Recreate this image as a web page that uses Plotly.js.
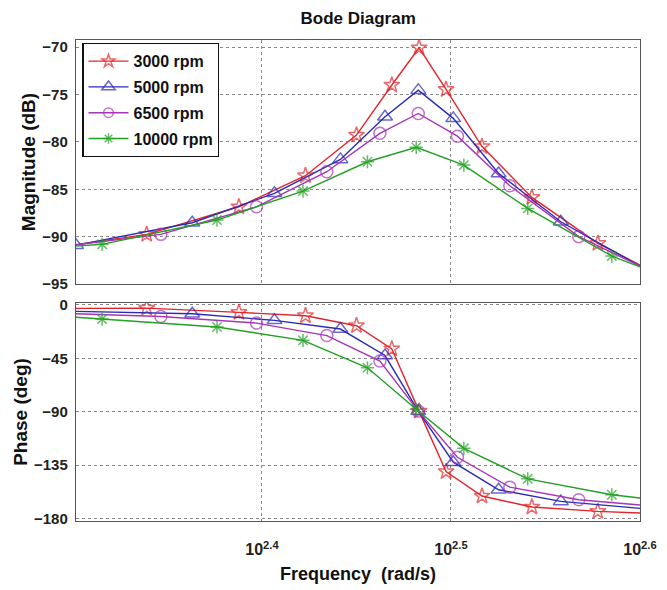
<!DOCTYPE html>
<html>
<head>
<meta charset="utf-8">
<script src="https://cdn.plot.ly/plotly-3.0.1.min.js"></script>
<style>html,body{margin:0;padding:0;background:#fff;}#chart{width:667px;height:590px;}</style>
</head>
<body>
<div id="chart"></div>
<script>
// ---- data (log10 of frequency in rad/s, magnitude dB, phase deg) ----
const seriesNames = ['3000 rpm', '5000 rpm', '6500 rpm', '10000 rpm'];

// 3000 rpm
const logW3000 = [2.3016, 2.339, 2.3878, 2.423, 2.450, 2.4687, 2.4831, 2.4974, 2.5164, 2.5428, 2.5777, 2.6];
const mag3000  = [-90.85, -89.76, -86.85, -83.57, -79.28, -74.0, -70.07, -74.47, -80.5, -85.86, -90.71, -93.0];
const ph3000   = [-3.0, -2.8, -6.4, -9.2, -17.6, -37.1, -89.5, -140.4, -161.0, -170.2, -173.9, -175.3];
const mk3000   = [false, true, true, true, true, true, true, true, true, true, true, false];

// 5000 rpm
const logW5000 = [2.3016, 2.3631, 2.4066, 2.4415, 2.4651, 2.4827, 2.5012, 2.5252, 2.5581, 2.6];
const mag5000  = [-90.9, -88.53, -85.43, -81.85, -77.35, -74.54, -77.52, -83.33, -88.43, -93.1];
const ph5000   = [-5.5, -7.5, -13.1, -20.4, -42.7, -89.5, -132.5, -155.7, -165.5, -171.4];
const mkMag5000 = [true, true, true, true, true, true, true, true, true, false];
const mkPh5000  = [false, true, true, true, true, true, true, true, true, false];

// 6500 rpm
const logW6500 = [2.3016, 2.3465, 2.3971, 2.4343, 2.4624, 2.4827, 2.5034, 2.5311, 2.5676, 2.6];
const mag6500  = [-90.85, -89.76, -86.85, -83.15, -79.1, -77.0, -79.4, -84.63, -90.0, -93.1];
const ph6500   = [-7.5, -9.8, -15.4, -25.9, -47.4, -89.5, -128.4, -153.5, -164.1, -168.5];
const mk6500   = [false, true, true, true, true, true, true, true, true, false];

// 10000 rpm
const logW10000 = [2.3016, 2.3154, 2.3762, 2.4217, 2.4558, 2.4816, 2.5068, 2.5406, 2.5851, 2.6];
const mag10000  = [-91.0, -90.81, -88.25, -85.19, -82.1, -80.58, -82.45, -87.02, -92.05, -93.2];
const ph10000   = [-10.5, -12.0, -18.7, -29.9, -53.0, -88.0, -120.8, -146.5, -159.9, -162.7];
const mk10000   = [false, true, true, true, true, true, true, true, true, false];

const xTickExp = [2.4, 2.5, 2.6];
const magTicks = [-70, -75, -80, -85, -90, -95];
const phTicks  = [0, -45, -90, -135, -180];

// ---- styles ----
const colors  = ['#e3262b', '#2a2ab8', '#a634b8', '#22a022'];
const symbols = ['star-open', 'triangle-up-open', 'circle-open', 'asterisk-open'];
const msize   = [12, 13, 12, 11];
const toW = a => a.map(v => Math.pow(10, v));
const sizes = (flags, s) => flags.map(f => f ? s : 0);

const sets = [
  {w: logW3000, m: mag3000, p: ph3000, km: mk3000, kp: mk3000},
  {w: logW5000, m: mag5000, p: ph5000, km: mkMag5000, kp: mkPh5000},
  {w: logW6500, m: mag6500, p: ph6500, km: mk6500, kp: mk6500},
  {w: logW10000, m: mag10000, p: ph10000, km: mk10000, kp: mk10000}
];

const traces = [];
sets.forEach((s, i) => {
  traces.push({
    x: toW(s.w), y: s.m, xaxis: 'x', yaxis: 'y', type: 'scatter', mode: 'lines+markers',
    name: seriesNames[i], legendgroup: seriesNames[i],
    line: {color: colors[i], width: 1.4},
    marker: {symbol: symbols[i], size: sizes(s.km, msize[i]), color: colors[i], line: {color: colors[i], width: 1.5}}
  });
});
sets.forEach((s, i) => {
  traces.push({
    x: toW(s.w), y: s.p, xaxis: 'x2', yaxis: 'y2', type: 'scatter', mode: 'lines+markers',
    name: seriesNames[i], legendgroup: seriesNames[i], showlegend: false,
    line: {color: colors[i], width: 1.4},
    marker: {symbol: symbols[i], size: sizes(s.kp, msize[i]), color: colors[i], line: {color: colors[i], width: 1.5}}
  });
});

const fam = 'Liberation Sans Narrow, Liberation Sans, Arial, sans-serif';
const tickFont = {family: fam, size: 15, color: '#222', weight: 'bold'};
const frame = {showline: true, mirror: true, linecolor: '#555', linewidth: 1.2, zeroline: false,
               showgrid: true, gridcolor: '#888', griddash: 'dot', gridwidth: 1};
const xVals = xTickExp.map(e => Math.pow(10, e));
const xText = xTickExp.map(e => '10<sup>' + e + '</sup>');

const layout = {
  width: 667, height: 590,
  paper_bgcolor: '#fff', plot_bgcolor: '#fff',
  margin: {l: 76, r: 27, t: 40, b: 69},
  showlegend: true,
  legend: {x: 0.011, y: 0.994, xanchor: 'left', yanchor: 'top', bgcolor: '#fff',
           bordercolor: '#111', borderwidth: 1.3,
           font: {family: fam, size: 16, color: '#111', weight: 'bold'},
           itemwidth: 40, tracegroupgap: 2},
  title: {text: 'Bode Diagram', x: 0.537, xanchor: 'center', y: 0.969, yanchor: 'middle',
          font: {family: fam, size: 17, color: '#111', weight: 'bold'}},
  xaxis: Object.assign({}, frame, {type: 'log', range: [2.3016, 2.6], anchor: 'y', domain: [0, 1],
          tickmode: 'array', tickvals: xVals, ticktext: xText, showticklabels: false, ticks: ''}),
  yaxis: Object.assign({}, frame, {range: [-95, -69.25], domain: [0.4927, 1], anchor: 'x',
          tickmode: 'array', tickvals: magTicks, ticks: '', tickfont: tickFont, ticklabelstandoff: 4,
          title: {text: 'Magnitude (dB)', standoff: 1,
                  font: {family: 'Liberation Sans, Arial, sans-serif', size: 19, color: '#111', weight: 'bold'}}}),
  xaxis2: Object.assign({}, frame, {type: 'log', range: [2.3016, 2.6], anchor: 'y2', domain: [0, 1], matches: 'x',
          tickmode: 'array', tickvals: xVals, ticktext: xText, ticks: '', tickfont: {family: fam, size: 16, color: '#222', weight: 'bold'}, ticklabelstandoff: 14,
          title: {text: 'Frequency\u00a0 (rad/s)', standoff: 10,
                  font: {family: fam, size: 18, color: '#111', weight: 'bold'}}}),
  yaxis2: Object.assign({}, frame, {range: [-182, 1.5], domain: [0, 0.4532], anchor: 'x2',
          tickmode: 'array', tickvals: phTicks, ticks: '', tickfont: tickFont, ticklabelstandoff: 4,
          title: {text: 'Phase (deg)', standoff: 1,
                  font: {family: 'Liberation Sans, Arial, sans-serif', size: 19, color: '#111', weight: 'bold'}}})
};

Plotly.newPlot('chart', traces, layout, {displayModeBar: false, staticPlot: true});
</script>
</body>
</html>
